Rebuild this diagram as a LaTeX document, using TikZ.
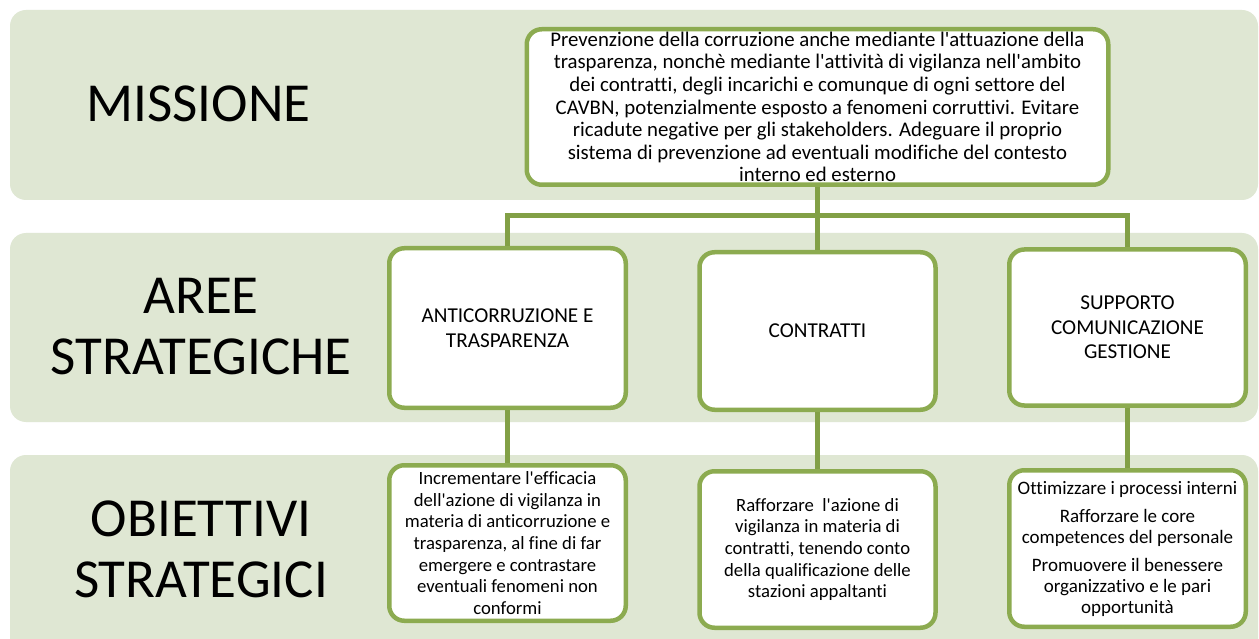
\documentclass[tikz,border=0pt]{standalone}
\usepackage{fontspec}
\setmainfont{Carlito}[Ligatures=CommonOff]
\newcommand{\myap}{\textquotesingle}
\definecolor{bandfill}{HTML}{DFE7D3}
\definecolor{boxline}{HTML}{8CAB50}
\definecolor{connline}{HTML}{82A046}
\begin{document}
\begin{tikzpicture}[x=1pt,y=-1pt,
  band/.style={fill=bandfill, rounded corners=16pt},
  lbl/.style={align=center, font=\fontsize{55}{61}\selectfont, inner sep=0pt},
  box/.style={draw=boxline, line width=4.5pt, fill=white, rounded corners=15pt,
    align=center, inner sep=0pt},
  boxtxt/.style={font=\fontsize{21.2}{24.5}\selectfont},
  objtxt/.style={font=\fontsize{18.7}{21.7}\selectfont},
  conn/.style={draw=connline, line width=5pt}]
\useasboundingbox (0,0) rectangle (1259,639);
\fill[white] (0,0) rectangle (1259,639);
% bands
\fill[band] (10,10) rectangle (1258,200);
\fill[band] (10,233) rectangle (1258,422);
\fill[band] (10,455) rectangle (1258,660);
% left labels
\node[lbl] (lmis) at (198.5,104) {MISSIONE};
\node[lbl] (lare) at (201,327) {AREE\\STRATEGICHE};
\node[lbl] (lobi) at (201,549) {OBIETTIVI\\STRATEGICI};
% boxes
\coordinate (bary) at (0,215.5);
\node[box, minimum width=581.5pt, minimum height=155.5pt,
  font=\fontsize{20.8}{22.6}\selectfont] (top) at (817.5,107)
  {Prevenzione della corruzione anche mediante l\myap attuazione della\\
   trasparenza, nonchè mediante l\myap attività di vigilanza nell\myap ambito\\
   dei contratti, degli incarichi e comunque di ogni settore del\\
   CAVBN, potenzialmente esposto a fenomeni corruttivi. Evitare\\
   ricadute negative per gli stakeholders. Adeguare il proprio\\
   sistema di prevenzione ad eventuali modifiche del contesto\\
   interno ed esterno};
\node[box, boxtxt, minimum width=236.5pt, minimum height=159.5pt] (r2a) at (507.5,328)
  {ANTICORRUZIONE E\\TRASPARENZA};
\node[box, boxtxt, minimum width=236pt, minimum height=157.5pt] (r2b) at (817.5,331)
  {CONTRATTI};
\node[box, boxtxt, minimum width=236.5pt, minimum height=156pt] (r2c) at (1127.5,327.5)
  {SUPPORTO\\COMUNICAZIONE\\GESTIONE};
\node[box, objtxt, minimum width=236.5pt, minimum height=155.5pt] (r3a) at (507.5,543)
  {Incrementare l\myap efficacia\\dell\myap azione di vigilanza in\\materia di anticorruzione e\\
   trasparenza, al fine di far\\emergere e contrastare\\eventuali fenomeni non\\conformi};
\node[box, objtxt, minimum width=236pt, minimum height=156.5pt] (r3b) at (817.5,549.5)
  {Rafforzare\ \ l\myap azione di\\vigilanza in materia di\\contratti, tenendo conto\\
   della qualificazione delle\\stazioni appaltanti};
\node[box, font=\fontsize{19}{21}\selectfont, minimum width=236.5pt, minimum height=156.5pt] (r3c) at (1127.5,548.5)
  {Ottimizzare i processi interni\\[7pt]Rafforzare le core\\competences del personale\\[7pt]
   Promuovere il benessere\\organizzativo e le pari\\opportunità};
% connectors
\draw[conn] (top.south) -- (r2b.north);
\draw[conn] (r2a.north) -- (r2a.north |- bary) -- (r2c.north |- bary) -- (r2c.north);
\draw[conn] (r2a.south) -- (r3a.north);
\draw[conn] (r2b.south) -- (r3b.north);
\draw[conn] (r2c.south) -- (r3c.north);
\end{tikzpicture}
\end{document}
